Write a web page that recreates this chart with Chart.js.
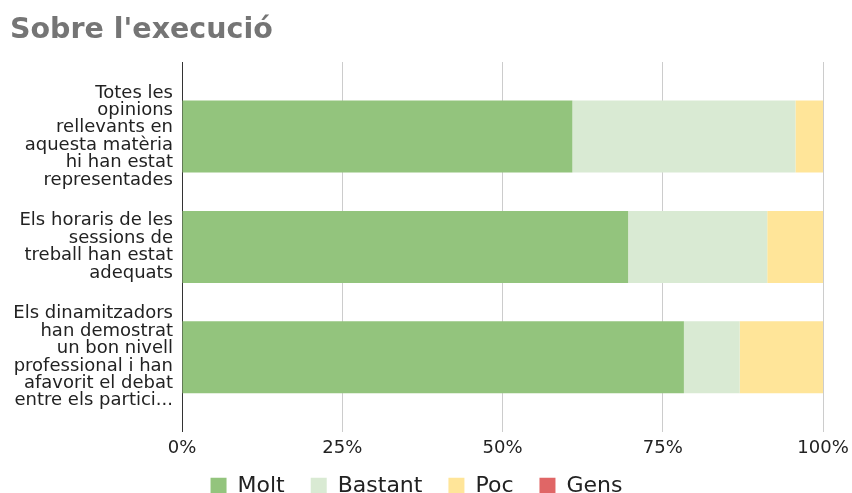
<!DOCTYPE html>
<html>
<head>
<meta charset="utf-8">
<script src="https://cdn.jsdelivr.net/npm/chart.js@4"></script>
<style>
  html, body { margin: 0; padding: 0; background: #ffffff; }
  #wrap { width: 852px; height: 493px; position: relative; }
</style>
</head>
<body>
<div id="wrap"><canvas id="c"></canvas></div>
<script>
const titleText = "Sobre l'execució";
const categories = [
  ["Totes les", "opinions", "rellevants en", "aquesta matèria", "hi han estat", "representades"],
  ["Els horaris de les", "sessions de", "treball han estat", "adequats"],
  ["Els dinamitzadors", "han demostrat", "un bon nivell", "professional i han", "afavorit el debat", "entre els partici..."]
];
const seriesNames = ["Molt", "Bastant", "Poc", "Gens"];
const molt = [60.9, 69.6, 78.3];
const bastant = [34.8, 21.7, 8.7];
const poc = [4.3, 8.7, 13.0];
const gens = [0, 0, 0];
const xTicks = [0, 25, 50, 75, 100];
const colors = ["#93c47d", "#d9ead3", "#ffe599", "#e06666"];

const seriesValues = [molt, bastant, poc, gens];
const datasets = seriesValues.map((vals, s) => ({
  label: seriesNames[s],
  data: vals.map((v, i) => ({ x: v, y: i })),
  backgroundColor: colors[s],
  borderWidth: 0,
  barPercentage: 0.652,
  categoryPercentage: 1.0
}));

const FONT = "'DejaVu Sans', sans-serif";

new Chart(document.getElementById('c'), {
  type: 'bar',
  data: { datasets },
  options: {
    indexAxis: 'y',
    responsive: true,
    maintainAspectRatio: false,
    animation: false,
    layout: { padding: { left: 10, right: 29, top: 0, bottom: -14 } },
    plugins: {
      title: {
        display: true,
        text: titleText,
        align: 'start',
        color: '#757575',
        font: { family: FONT, size: 28.5, weight: 'bold', lineHeight: 1.2 },
        padding: { top: 13, bottom: 14.8 }
      },
      legend: {
        display: true,
        position: 'bottom',
        align: 'center',
        labels: {
          color: '#222222',
          font: { family: FONT, size: 22 },
          boxWidth: 16,
          boxHeight: 16,
          padding: 26
        }
      },
      tooltip: { enabled: false }
    },
    scales: {
      x: {
        type: 'linear',
        stacked: true,
        min: 0,
        max: 100,
        afterBuildTicks: (scale) => { scale.ticks = xTicks.map(v => ({ value: v })); },
        afterFit: (scale) => { scale.height = 17; },
        ticks: {
          color: '#222222',
          font: { family: FONT, size: 18, lineHeight: 1.2 },
          mirror: true,
          padding: -27.8,
          maxRotation: 0,
          autoSkip: false,
          callback: (v) => v + '%'
        },
        grid: {
          drawTicks: false,
          color: (ctx) => (ctx.tick && ctx.tick.value === 0) ? 'rgba(0,0,0,0)' : '#cccccc',
          lineWidth: 1
        },
        border: { display: false }
      },
      y: {
        type: 'linear',
        stacked: true,
        reverse: true,
        offset: false,
        min: -0.675,
        max: 2.675,
        afterBuildTicks: (scale) => { scale.ticks = categories.map((c, i) => ({ value: i })); },
        afterFit: (scale) => { scale.width = 172; },
        ticks: {
          color: '#222222',
          font: { family: FONT, size: 18, lineHeight: 0.967 },
          padding: 9,
          autoSkip: false,
          callback: (v) => categories[v]
        },
        grid: { display: false, drawTicks: false, offset: false },
        border: { display: true, color: '#333333', width: 1 }
      }
    }
  }
});
</script>
</body>
</html>
